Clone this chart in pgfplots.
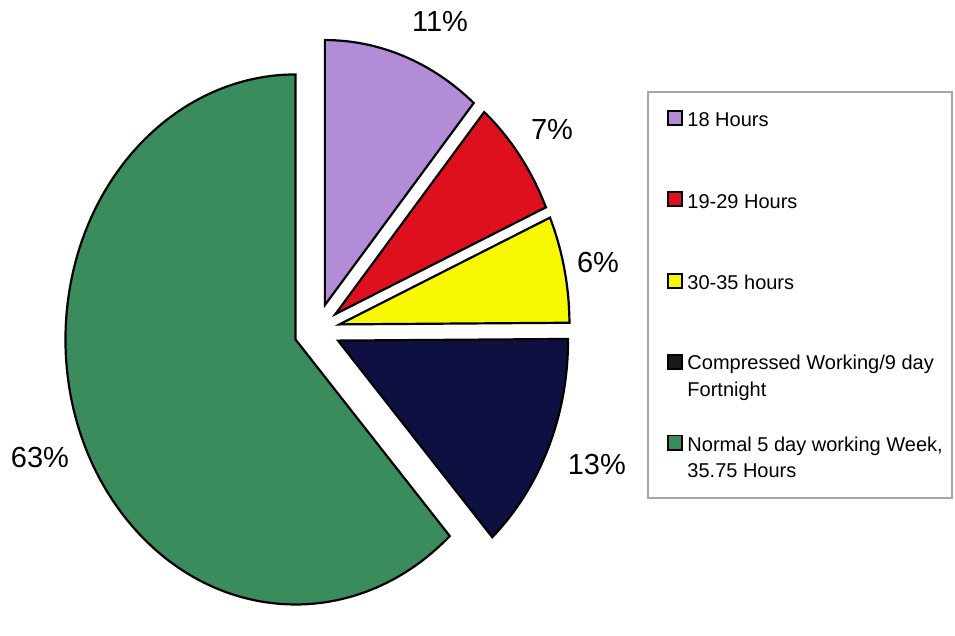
\documentclass[border=0pt]{standalone}
\usepackage{pgfplots}
\pgfplotsset{compat=1.18}
\usepackage{fontspec}
\setmainfont{Liberation Sans}
\definecolor{cPurple}{RGB}{178,140,214}
\definecolor{cRed}{RGB}{222,16,30}
\definecolor{cYellow}{RGB}{248,248,0}
\definecolor{cNavy}{RGB}{14,16,66}
\definecolor{cGreen}{RGB}{58,140,92}
\def\offs{0.1}
% slice: #1 start (cumulative %), #2 end (cumulative %), #3 colour
\newcommand\slice[3]{%
  \draw[fill=#3, line width=1.1pt, line join=miter]
    (axis cs:{\offs*sin(1.8*(#1+#2))},{\offs*cos(1.8*(#1+#2))})
    -- (axis cs:{\offs*sin(1.8*(#1+#2))+sin(3.6*#1)},{\offs*cos(1.8*(#1+#2))+cos(3.6*#1)})
    arc[start angle={90-3.6*#1}, end angle={90-3.6*#2}, x radius=115pt, y radius=132.5pt]
    -- cycle;}
\newcommand\legsq[2]{%
  \draw[fill=#2, line width=0.8pt] (axis cs:1.557,#1) +(-3.6pt,-3.6pt) rectangle +(3.6pt,3.6pt);}
\begin{document}
\begin{tikzpicture}
\begin{axis}[
  x=115pt, y=132.5pt,
  xmin=-1.378, xmax=2.774, ymin=-1.060, ymax=1.245,
  hide axis, clip=false]
\path (rel axis cs:0,0) rectangle (rel axis cs:1,1);
% slice shares as drawn (cumulative %): 18 Hours 11.2, 19-29 Hours 7.2,
% 30-35 hours 6.5, Compressed 13.4, Normal 61.7
\slice{0}{11.2}{cPurple}
\slice{11.2}{18.4}{cRed}
\slice{18.4}{24.9}{cYellow}
\slice{24.9}{38.3}{cNavy}
\slice{38.3}{100}{cGreen}
% percentage labels
\node[font=\fontsize{14.5}{17}\selectfont] at (axis cs:0.535,1.162) {11\%};
\node[font=\fontsize{14.5}{17}\selectfont] at (axis cs:1.022,0.755) {7\%};
\node[font=\fontsize{14.5}{17}\selectfont] at (axis cs:1.222,0.253) {6\%};
\node[font=\fontsize{14.5}{17}\selectfont] at (axis cs:1.217,-0.509) {13\%};
\node[font=\fontsize{14.5}{17}\selectfont] at (axis cs:-1.204,-0.483) {63\%};
% legend
\draw[gray!70, line width=0.6pt] (axis cs:1.439,0.898) rectangle (axis cs:2.761,-0.634);
\legsq{0.800}{cPurple}
\legsq{0.494}{cRed}
\legsq{0.185}{cYellow}
\legsq{-0.121}{black!90}
\legsq{-0.426}{cGreen}
\node[anchor=base west, inner sep=0pt, font=\fontsize{10}{12}\selectfont] at (axis cs:1.609,0.766) {18 Hours};
\node[anchor=base west, inner sep=0pt, font=\fontsize{10}{12}\selectfont] at (axis cs:1.609,0.460) {19-29 Hours};
\node[anchor=base west, inner sep=0pt, font=\fontsize{10}{12}\selectfont] at (axis cs:1.609,0.151) {30-35 hours};
\node[anchor=base west, inner sep=0pt, font=\fontsize{10}{12}\selectfont] at (axis cs:1.609,-0.151) {Compressed Working/9 day};
\node[anchor=base west, inner sep=0pt, font=\fontsize{10}{12}\selectfont] at (axis cs:1.609,-0.253) {Fortnight};
\node[anchor=base west, inner sep=0pt, font=\fontsize{10}{12}\selectfont] at (axis cs:1.609,-0.460) {Normal 5 day working Week,};
\node[anchor=base west, inner sep=0pt, font=\fontsize{10}{12}\selectfont] at (axis cs:1.609,-0.558) {35.75 Hours};
\end{axis}
\end{tikzpicture}
\end{document}
